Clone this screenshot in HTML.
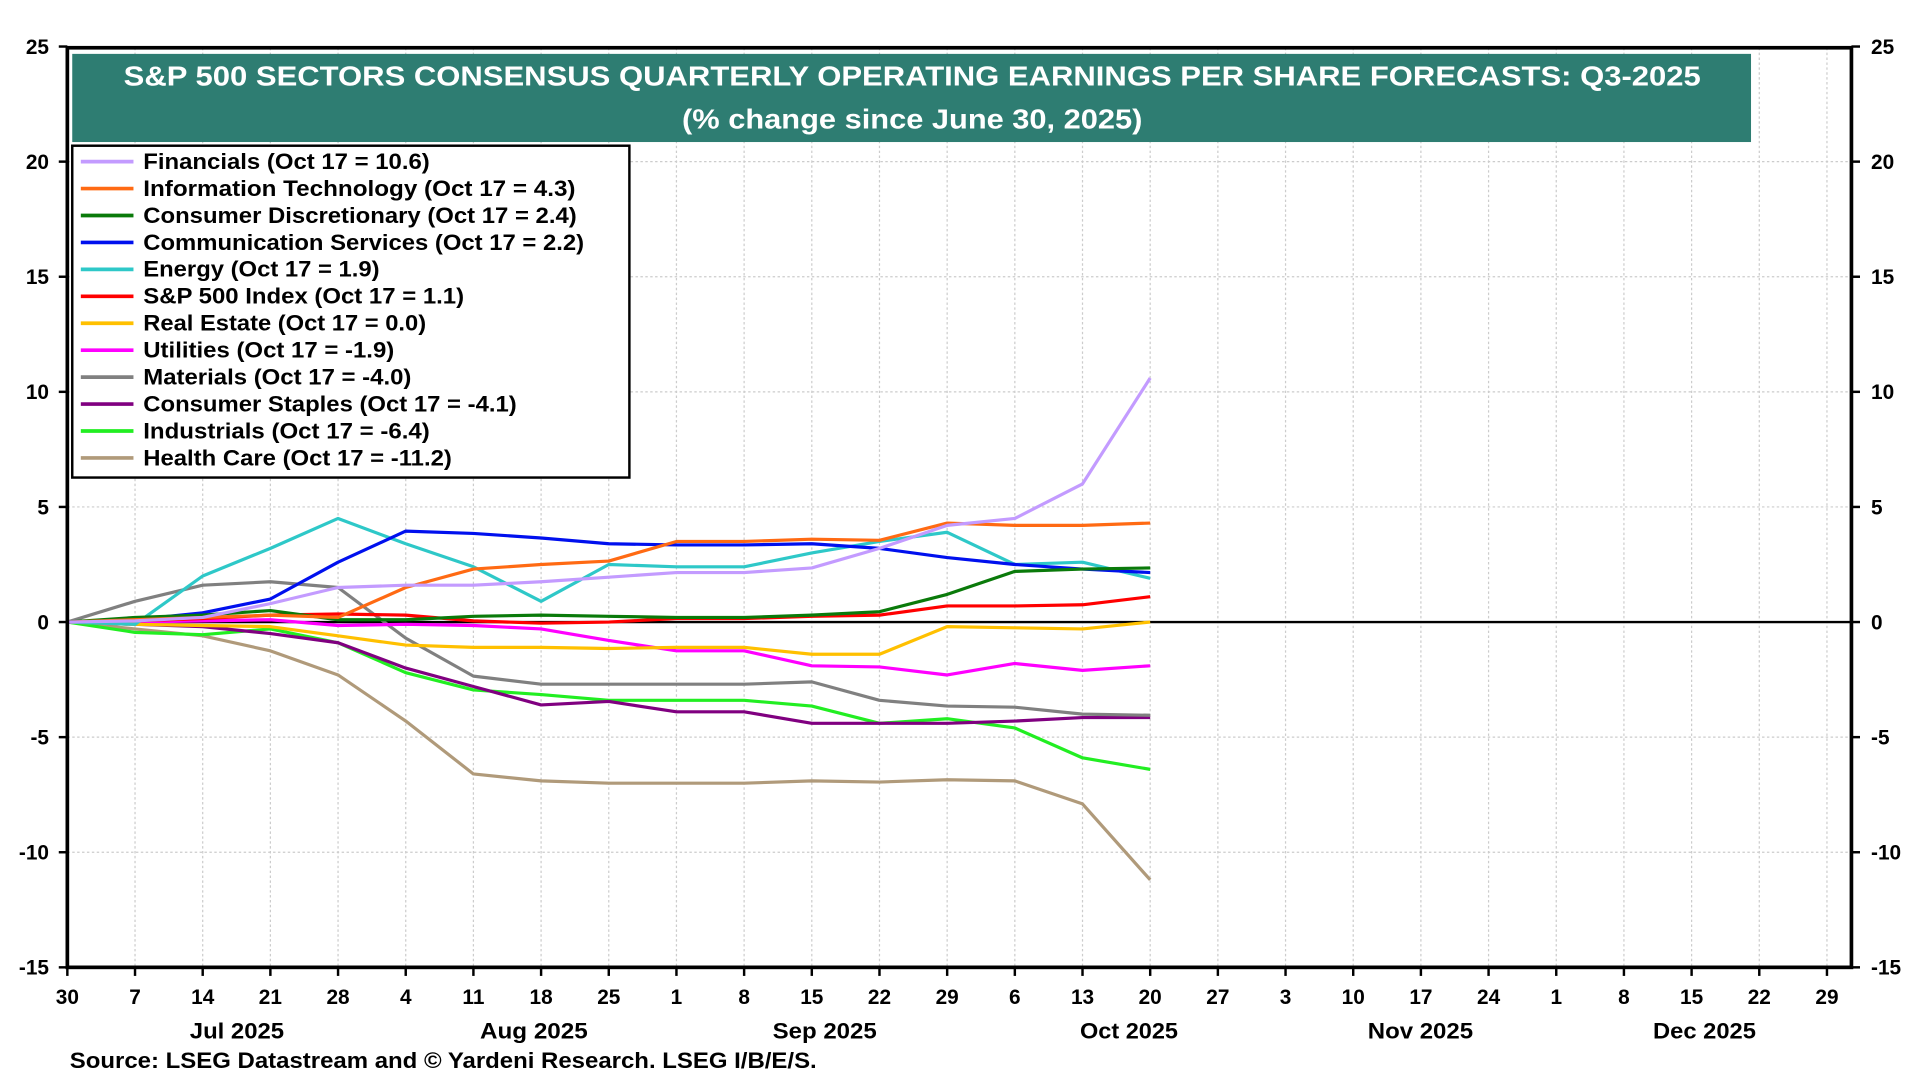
<!DOCTYPE html>
<html><head><meta charset="utf-8"><style>
html,body{margin:0;padding:0;background:#fff;}
svg{display:block;font-family:"Liberation Sans",Arial,sans-serif;font-weight:bold;}
</style></head><body>
<svg id="c" width="1920" height="1080" viewBox="0 0 1568 882" preserveAspectRatio="none" xmlns="http://www.w3.org/2000/svg">
<rect x="0" y="0" width="1568" height="882" fill="#fff"/>
<g id="grid"></g>
<line x1="55" y1="508" x2="1512" y2="508" stroke="#000" stroke-width="2"/>
<g id="series"></g>
<rect x="55" y="39" width="1457" height="751" fill="none" stroke="#000" stroke-width="3"/>
<rect x="59" y="44" width="1371" height="72" fill="#2e7d72"/>
<text x="101" y="70" fill="#fff" font-size="23" textLength="1288" lengthAdjust="spacingAndGlyphs">S&amp;P 500 SECTORS CONSENSUS QUARTERLY OPERATING EARNINGS PER SHARE FORECASTS: Q3-2025</text>
<text x="557" y="105" fill="#fff" font-size="23" textLength="376" lengthAdjust="spacingAndGlyphs">(% change since June 30, 2025)</text>
<rect x="59" y="119" width="455" height="271" fill="#fff" stroke="#000" stroke-width="2"/>
<g id="legend" font-size="18"></g>
<g id="ticks" font-size="17"></g>
<g font-size="18">
<text x="155" y="848" textLength="77" lengthAdjust="spacingAndGlyphs">Jul 2025</text>
<text x="392" y="848" textLength="88" lengthAdjust="spacingAndGlyphs">Aug 2025</text>
<text x="631" y="848" textLength="85" lengthAdjust="spacingAndGlyphs">Sep 2025</text>
<text x="882" y="848" textLength="80" lengthAdjust="spacingAndGlyphs">Oct 2025</text>
<text x="1117" y="848" textLength="86" lengthAdjust="spacingAndGlyphs">Nov 2025</text>
<text x="1350" y="848" textLength="84" lengthAdjust="spacingAndGlyphs">Dec 2025</text>
<text x="57" y="872" textLength="610" lengthAdjust="spacingAndGlyphs">Source: LSEG Datastream and © Yardeni Research. LSEG I/B/E/S.</text>
</g>
</svg>
<script>
const NS="http://www.w3.org/2000/svg";
function el(t,a,p,txt){const e=document.createElementNS(NS,t);for(const k in a)e.setAttribute(k,a[k]);if(txt!==undefined)e.textContent=txt;p.appendChild(e);return e;}
const X=i=>55+i*55.27, Y=v=>508-v*18.8;
const grid=document.getElementById('grid'),ticks=document.getElementById('ticks');
for(let v=-15;v<=25;v+=5){
 if(v>-15&&v<25&&v!==0) el('line',{x1:55,x2:1512,y1:Y(v),y2:Y(v),stroke:'#ccc','stroke-dasharray':'2,2'},grid);
 el('text',{x:40,y:Y(v)+6,'text-anchor':'end'},ticks,String(v));
 el('text',{x:1528,y:Y(v)+6},ticks,String(v));
 el('line',{x1:48,x2:55,y1:Y(v),y2:Y(v),stroke:'#000','stroke-width':2},ticks);
 el('line',{x1:1512,x2:1519,y1:Y(v),y2:Y(v),stroke:'#000','stroke-width':2},ticks);
}
const lbl=[30,7,14,21,28,4,11,18,25,1,8,15,22,29,6,13,20,27,3,10,17,24,1,8,15,22,29];
lbl.forEach((d,i)=>{
 if(i>0) el('line',{x1:X(i),x2:X(i),y1:39,y2:790,stroke:'#ccc','stroke-dasharray':'2,2'},grid);
 el('line',{x1:X(i),x2:X(i),y1:790,y2:797,stroke:'#000','stroke-width':2},ticks);
 el('text',{x:X(i),y:820,'text-anchor':'middle'},ticks,String(d));
});
const S=[
["Financials (Oct 17 = 10.6)","#c39bff",[0,0.05,0.2,0.8,1.5,1.6,1.6,1.75,1.95,2.15,2.15,2.35,3.2,4.2,4.5,6.0,10.6]],
["Information Technology (Oct 17 = 4.3)","#ff6a13",[0,0.1,0.2,0.3,0.2,1.5,2.3,2.5,2.65,3.5,3.5,3.6,3.55,4.3,4.2,4.2,4.3]],
["Consumer Discretionary (Oct 17 = 2.4)","#0a7a0a",[0,0.2,0.3,0.5,0.1,0.1,0.25,0.3,0.25,0.2,0.2,0.3,0.45,1.2,2.2,2.3,2.35]],
["Communication Services (Oct 17 = 2.2)","#0010ee",[0,0.1,0.4,1.0,2.6,3.95,3.85,3.65,3.4,3.35,3.35,3.4,3.2,2.8,2.5,2.3,2.15]],
["Energy (Oct 17 = 1.9)","#2ec8c8",[0,-0.1,2.0,3.2,4.5,3.4,2.4,0.9,2.5,2.4,2.4,3.0,3.5,3.9,2.5,2.6,1.9]],
["S&P 500 Index (Oct 17 = 1.1)","#ff0000",[0,0.05,0.15,0.3,0.35,0.3,0.05,-0.05,0,0.15,0.15,0.25,0.3,0.7,0.7,0.75,1.1]],
["Real Estate (Oct 17 = 0.0)","#ffc000",[0,-0.1,-0.15,-0.2,-0.6,-1.0,-1.1,-1.1,-1.15,-1.1,-1.1,-1.4,-1.4,-0.2,-0.25,-0.3,0.0]],
["Utilities (Oct 17 = -1.9)","#ff00ff",[0,0,0.05,0.1,-0.15,-0.1,-0.15,-0.3,-0.8,-1.25,-1.25,-1.9,-1.95,-2.3,-1.8,-2.1,-1.9]],
["Materials (Oct 17 = -4.0)","#808080",[0,0.9,1.6,1.75,1.5,-0.7,-2.35,-2.7,-2.7,-2.7,-2.7,-2.6,-3.4,-3.65,-3.7,-4.0,-4.05]],
["Consumer Staples (Oct 17 = -4.1)","#800080",[0,-0.1,-0.2,-0.5,-0.9,-2.0,-2.8,-3.6,-3.45,-3.9,-3.9,-4.4,-4.4,-4.4,-4.3,-4.15,-4.15]],
["Industrials (Oct 17 = -6.4)","#22ee22",[0,-0.45,-0.55,-0.3,-0.9,-2.2,-2.95,-3.15,-3.4,-3.4,-3.4,-3.65,-4.4,-4.2,-4.6,-5.9,-6.4]],
["Health Care (Oct 17 = -11.2)","#b09a7a",[0,-0.3,-0.6,-1.25,-2.3,-4.3,-6.6,-6.9,-7.0,-7.0,-7.0,-6.9,-6.95,-6.85,-6.9,-7.9,-11.2]]
];
const ser=document.getElementById('series'),leg=document.getElementById('legend');
[...S].reverse().forEach(s=>{
 el('polyline',{points:s[2].map((v,i)=>X(i)+','+Y(v)).join(' '),fill:'none',stroke:s[1],'stroke-width':2.6,'stroke-linejoin':'round'},ser);
});
const W=[234,353,354,360,193,262,231,205,219,305,234,252];
S.forEach((s,i)=>{
 const y=132+i*22;
 el('line',{x1:66,x2:109,y1:y,y2:y,stroke:s[1],'stroke-width':3},leg);
 el('text',{x:117,y:y+6,textLength:W[i],lengthAdjust:'spacingAndGlyphs'},leg,s[0]);
});
</script>
</body></html>
